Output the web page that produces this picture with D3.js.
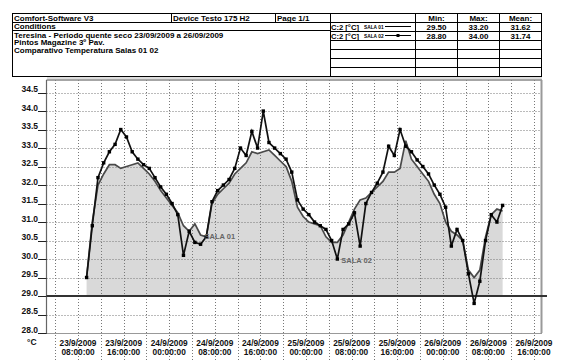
<!DOCTYPE html>
<html>
<head>
<meta charset="utf-8">
<script src="https://cdn.jsdelivr.net/npm/d3@7"></script>
<style>
  body { margin: 0; background: #fff; }
  svg { display: block; }
  text { font-family: "Liberation Sans", Arial, sans-serif; }
</style>
</head>
<body>
<div id="chart"></div>
<script>
// logged hourly from 23/9/2009 09:30
const startTime = '23/9/2009 09:30:00'
const sala01 = [
  29.5, 31.0, 32.0, 32.3, 32.55, 32.55, 32.45, 32.5, 32.55, 32.6,
  32.45, 32.3, 32.1, 31.85, 31.65, 31.45, 31.25, 30.9, 30.75, 30.95,
  30.65, 30.6, 31.5, 31.75, 31.9, 32.05, 32.3, 32.45, 32.6, 32.9,
  32.85, 32.9, 32.95, 32.8, 32.65, 32.5, 32.1, 31.4, 31.15, 31.0,
  30.95, 30.9, 30.6, 30.45, 30.45, 30.65, 31.0, 31.35, 31.6, 31.65,
  31.8, 31.95, 32.1, 32.35, 32.35, 32.45, 33.2, 32.7, 32.5, 32.3,
  32.1, 31.75, 31.5, 31.0, 30.75, 30.65, 30.5, 29.7, 29.5, 29.7,
  30.6, 31.2, 31.35, 31.3
]
const sala02 = [
  29.5, 30.9, 32.2, 32.6, 32.9, 33.1, 33.5, 33.3, 32.9, 32.7,
  32.55, 32.45, 32.2, 31.95, 31.75, 31.5, 31.2, 30.1, 30.75, 30.45,
  30.4, 30.6, 31.55, 31.85, 32.0, 32.15, 32.45, 33.0, 32.8, 33.45,
  33.0, 34.0, 33.15, 33.0, 32.85, 32.7, 32.35, 31.6, 31.35, 31.2,
  31.0, 30.9, 30.8, 30.5, 30.0, 30.8, 30.95, 31.25, 30.35, 31.5,
  31.8, 32.05, 32.35, 33.05, 32.8, 33.5, 33.05, 32.9, 32.68, 32.5,
  32.3, 32.0, 31.75, 31.4, 30.35, 30.8, 30.5, 29.6, 28.8, 29.4,
  30.5, 31.2, 31.0, 31.45
]
const seriesNames = ['SALA 01', 'SALA 02']
const minVals = ['29.50', '28.80']
const maxVals = ['33.20', '34.00']
const meanVals = ['31.62', '31.74']
const yTicks = [28.0, 28.5, 29.0, 29.5, 30.0, 30.5, 31.0, 31.5, 32.0, 32.5, 33.0, 33.5, 34.0, 34.5]
const xLabels = [
  '23/9/2009 08:00:00', '23/9/2009 16:00:00', '24/9/2009 00:00:00', '24/9/2009 08:00:00',
  '24/9/2009 16:00:00', '25/9/2009 00:00:00', '25/9/2009 08:00:00', '25/9/2009 16:00:00',
  '26/9/2009 00:00:00', '26/9/2009 08:00:00', '26/9/2009 16:00:00'
]
const headerLines = [
  'Teresina - Periodo quente seco 23/09/2009 a 26/09/2009',
  'Pintos Magazine 3º Pav.',
  'Comparativo Temperatura Salas 01 02'
]

const W = 569, H = 361
const plot = { left: 46.5, right: 541, top: 80, bottom: 333 }
const parse = d3.timeParse('%d/%m/%Y %H:%M:%S')
const t0 = parse(startTime)
const rows = sala01.map((v, i) => ({
  t: d3.timeHour.offset(t0, i),
  a: v,
  b: sala02[i]
}))

const svg = d3.select('#chart').append('svg')
  .attr('width', W)
  .attr('height', H)

const x = d3.scaleTime()
  .domain([parse('23/9/2009 02:28:00'), parse('26/9/2009 17:14:00')])
  .range([plot.left, plot.right])
const y = d3.scaleLinear()
  .domain([28, 34.84])
  .range([plot.bottom, plot.top])

// ---- header tables
const hdr = svg.append('g').attr('font-weight', 700).attr('font-size', '8px').attr('fill', '#000')
const ln = (x1, y1, x2, y2, c) => hdr.append('line')
  .attr('x1', x1).attr('y1', y1).attr('x2', x2).attr('y2', y2)
  .attr('stroke', c || '#000').attr('stroke-width', 1)

hdr.append('rect').attr('x', 12.5).attr('y', 13.5).attr('width', 529).attr('height', 63)
  .attr('fill', 'none').attr('stroke', '#000')
ln(12.5, 22.5, 541.5, 22.5)
ln(12.5, 30.5, 330.5, 30.5)
ln(330.5, 13.5, 330.5, 76.5)
ln(171.5, 13.5, 171.5, 22.5)
ln(275.5, 13.5, 275.5, 22.5)
;[31.5, 40.5, 49.5, 58.5, 67.5].forEach(yy => ln(330.5, yy, 541.5, yy))
;[415.5, 457.5, 499.5].forEach(xx => ln(xx, 13.5, xx, 76.5))
ln(47, 78, 542, 78, '#bbb')

hdr.append('text').attr('x', 14).attr('y', 20.5).text('Comfort-Software V3')
hdr.append('text').attr('x', 173).attr('y', 20.5).text('Device Testo 175 H2')
hdr.append('text').attr('x', 277).attr('y', 20.5).text('Page 1/1')
hdr.append('text').attr('x', 14).attr('y', 29).text('Conditions')
headerLines.forEach((s, i) => {
  hdr.append('text').attr('x', 14).attr('y', 37.5 + i * 7.8).text(s)
})

const colMid = [436.5, 478.5, 520.5]
;['Min:', 'Max:', 'Mean:'].forEach((s, i) => {
  hdr.append('text').attr('x', colMid[i]).attr('y', 20.5).attr('text-anchor', 'middle').text(s)
})
seriesNames.forEach((name, i) => {
  const by = 29.5 + i * 9
  hdr.append('text').attr('x', 331).attr('y', by).attr('font-size', '7.6px').text('C:2 [°C]')
  hdr.append('text').attr('x', 364).attr('y', by - 1).attr('font-size', '4.8px').text(name)
  ln(385, by - 3, 411, by - 3)
  if (i === 1) {
    hdr.append('rect').attr('x', 396.5).attr('y', by - 4.5).attr('width', 3).attr('height', 3).attr('fill', '#000')
  }
  ;[minVals[i], maxVals[i], meanVals[i]].forEach((v, j) => {
    hdr.append('text').attr('x', colMid[j]).attr('y', by).attr('text-anchor', 'middle').text(v)
  })
})

// ---- grid
const grid = svg.append('g')
const vLines = d3.timeHour.every(4).range(parse('23/9/2009 04:00:00'), parse('26/9/2009 17:00:00'))
grid.selectAll('line.v')
  .data(vLines)
  .join('line')
  .attr('x1', d => Math.round(x(d)) + 0.5)
  .attr('x2', d => Math.round(x(d)) + 0.5)
  .attr('y1', plot.top)
  .attr('y2', H)
  .attr('stroke', '#777')
  .attr('stroke-dasharray', '1,2')

// light fill for SALA 01 above the 29.0 line
const area = d3.area()
  .x(d => x(d.t))
  .y0(y(29))
  .y1(d => y(d.a))
svg.append('path')
  .datum(rows)
  .attr('d', area)
  .attr('fill', '#d9d9d9')

grid.raise()

svg.append('g').selectAll('line')
  .data(yTicks)
  .join('line')
  .attr('x1', plot.left)
  .attr('x2', plot.right)
  .attr('y1', d => Math.round(y(d)) + 0.5)
  .attr('y2', d => Math.round(y(d)) + 0.5)
  .attr('stroke', '#777')
  .attr('stroke-dasharray', '1,2')

// frame
svg.append('line').attr('x1', plot.left).attr('x2', plot.right + 1).attr('y1', plot.top).attr('y2', plot.top)
  .attr('stroke', '#888').attr('stroke-width', 1.5)
svg.append('line').attr('x1', plot.right + 0.5).attr('x2', plot.right + 0.5).attr('y1', plot.top).attr('y2', plot.bottom)
  .attr('stroke', '#999').attr('stroke-width', 2)
svg.append('line').attr('x1', plot.left).attr('x2', plot.right + 1).attr('y1', plot.bottom + 0.5).attr('y2', plot.bottom + 0.5)
  .attr('stroke', '#999').attr('stroke-width', 1)
svg.append('line').attr('x1', plot.left).attr('x2', plot.left).attr('y1', plot.top).attr('y2', plot.bottom + 1)
  .attr('stroke', '#666').attr('stroke-width', 1.2)

// y axis labels with short solid ticks
const yAx = svg.append('g')
yAx.selectAll('line')
  .data(yTicks)
  .join('line')
  .attr('x1', 38)
  .attr('x2', plot.left)
  .attr('y1', d => Math.round(y(d)) + 0.5)
  .attr('y2', d => Math.round(y(d)) + 0.5)
  .attr('stroke', '#222')
yAx.selectAll('text')
  .data(yTicks)
  .join('text')
  .attr('x', 38)
  .attr('y', d => y(d) - 0.5)
  .attr('text-anchor', 'end')
  .attr('font-size', '8.5px')
  .attr('font-weight', 700)
  .attr('fill', '#111')
  .text(d => d3.format('.1f')(d))
svg.append('text').attr('x', 27).attr('y', 345)
  .attr('font-size', '8.5px').attr('font-weight', 700).attr('fill', '#111').text('°C')

// x labels
const xl = svg.append('g')
  .attr('font-size', '8.3px')
  .attr('font-weight', 700)
  .attr('fill', '#111')
  .attr('text-anchor', 'middle')
xLabels.forEach(s => {
  const d = parse(s)
  const parts = s.split(' ')
  xl.append('text').attr('x', x(d)).attr('y', 345.5).text(parts[0])
  xl.append('text').attr('x', x(d)).attr('y', 354.5).text(parts[1])
})

// 29.0 reference line
svg.append('line')
  .attr('x1', plot.left)
  .attr('x2', 547)
  .attr('y1', y(29))
  .attr('y2', y(29))
  .attr('stroke', '#333')
  .attr('stroke-width', 2)

// series
const lineA = d3.line().x(d => x(d.t)).y(d => y(d.a))
const lineB = d3.line().x(d => x(d.t)).y(d => y(d.b))
svg.append('path')
  .datum(rows)
  .attr('d', lineA)
  .attr('fill', 'none')
  .attr('stroke', '#4a4a4a')
  .attr('stroke-width', 1.7)
svg.append('path')
  .datum(rows)
  .attr('d', lineB)
  .attr('fill', 'none')
  .attr('stroke', '#111')
  .attr('stroke-width', 1.7)
svg.append('g').selectAll('rect')
  .data(rows)
  .join('rect')
  .attr('x', d => x(d.t) - 1.7)
  .attr('y', d => y(d.b) - 1.7)
  .attr('width', 3.4)
  .attr('height', 3.4)
  .attr('fill', '#000')

// point labels at the local minima
const labA = rows[20], labB = rows[44]
svg.append('text')
  .attr('x', x(labA.t) + 4)
  .attr('y', y(labA.a) + 4)
  .attr('font-size', '7.5px')
  .attr('font-weight', 700)
  .attr('fill', '#666')
  .text(seriesNames[0])
svg.append('text')
  .attr('x', x(labB.t) + 4)
  .attr('y', y(labB.b) + 4)
  .attr('font-size', '7.5px')
  .attr('font-weight', 700)
  .attr('fill', '#666')
  .text(seriesNames[1])
</script>
</body>
</html>
